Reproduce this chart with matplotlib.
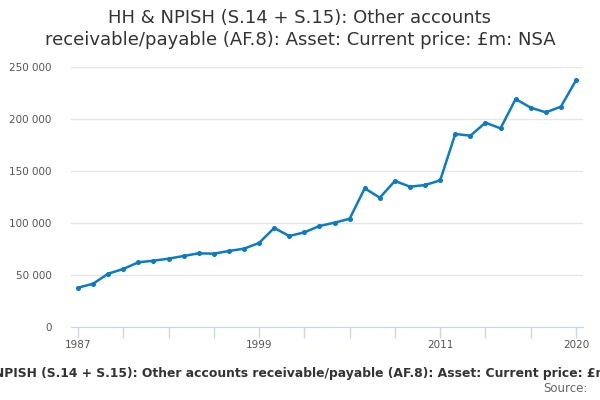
import matplotlib
matplotlib.use("Agg")
import matplotlib.pyplot as plt
from matplotlib.ticker import FuncFormatter

years = list(range(1987, 2021))
values = [37800, 41600, 51250, 55800, 62200, 63750, 65700, 68300, 70850, 70500,
          73100, 75300, 80800, 95200, 87500, 91000, 97100, 100300, 104100, 133350,
          124350, 140400, 134900, 136500, 141000, 185600, 183950, 196450, 191000, 219200,
          210900, 206400, 211850, 237200]
tick_years = list(range(1987, 2021, 3))
label_years = [1987, 1999, 2011, 2020]
title = "HH & NPISH (S.14 + S.15): Other accounts\nreceivable/payable (AF.8): Asset: Current price: £m: NSA"
footer = "HH & NPISH (S.14 + S.15): Other accounts receivable/payable (AF.8): Asset: Current price: £m: NSA"

plt.rcParams['font.family'] = ['DejaVu Sans']
fig = plt.figure(figsize=(6, 4), dpi=100)
ax = fig.add_axes([71/600, (400-327)/400, 512/600, 260/400])

line_color = '#0a7cc1'
ax.plot(years, values, color=line_color, lw=1.8, marker='o', ms=2.6, zorder=3)

ax.set_xlim(1986.536, 2020.464)
ax.set_ylim(0, 250000)
ax.set_yticks(range(0, 250001, 50000))
ax.yaxis.set_major_formatter(FuncFormatter(lambda v, p: f"{int(v):,}".replace(",", " ")))
ax.grid(axis='y', color='#e6e6e6', lw=1)
ax.set_axisbelow(True)
ax.set_xticks(tick_years)
ax.set_xticklabels([str(y) if y in label_years else '' for y in tick_years])
ax.tick_params(axis='x', length=8, color='#ccd6eb', width=1, labelsize=7.5, labelcolor='#555555', pad=1)
ax.tick_params(axis='y', length=0, labelsize=7.5, labelcolor='#555555', pad=14)
for s in ['top', 'right', 'left']:
    ax.spines[s].set_visible(False)
ax.spines['bottom'].set_color('#ccd6eb')

fig.text(0.5, 1 - 29/400, title, ha='center', va='center', fontsize=13, color='#333333', linespacing=1.25)
fig.text(0.5, 1 - 373/400, footer, ha='center', va='center', fontsize=8.9, fontweight='bold', color='#333333')
fig.text(588/600, 1 - 389/400, "Source:", ha='right', va='center', fontsize=8.5, color='#666666')

fig.savefig('out.png', dpi=100)
